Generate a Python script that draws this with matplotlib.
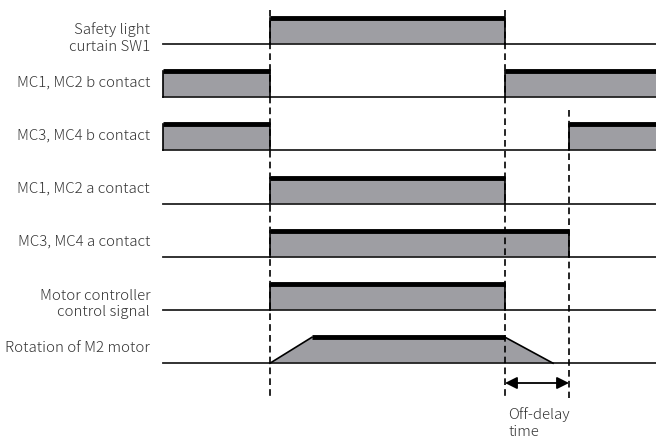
import matplotlib.pyplot as plt
from matplotlib.patches import Polygon

# signal labels (top to bottom)
labels = ['Safety light\ncurtain SW1', 'MC1, MC2 b contact', 'MC3, MC4 b contact',
          'MC1, MC2 a contact', 'MC3, MC4 a contact',
          'Motor controller\ncontrol signal', 'Rotation of M2 motor']

# event times on the time axis
t_start, t_end = 163, 656
t_on, t_off, t_delay = 270, 505, 569
ramp_up, ramp_down = 312, 553

# high intervals of each signal
highs = [
    [(t_on, t_off)],
    [(t_start, t_on), (t_off, t_end)],
    [(t_start, t_on), (t_delay, t_end)],
    [(t_on, t_off)],
    [(t_on, t_delay)],
    [(t_on, t_off)],
]
# motor rotation profile (trapezoid)
motor_t = [t_on, ramp_up, t_off, ramp_down]
motor_v = [0, 1, 1, 0]

plt.rcParams['font.family'] = ['Noto Sans CJK JP', 'DejaVu Sans']

fig = plt.figure(figsize=(6.56, 4.43), dpi=100)
ax = fig.add_axes([0, 0, 1, 1])
ax.set_xlim(0, 656)
ax.set_ylim(443, 0)
ax.axis('off')

base0, pitch, h = 44, 53.2, 26
fill_c = '#9e9ea3'
txt_c = '#333333'
fs = 10.8

for i, lab in enumerate(labels):
    yb = base0 + i * pitch
    ax.plot([t_start, t_end], [yb, yb], color='#222222', lw=1.3, zorder=3)
    ax.text(150, yb - 15 if '\n' not in lab else yb - 6, lab, ha='right', va='center',
            fontsize=fs, fontweight='light', color=txt_c, linespacing=1.2)
    if i < len(highs):
        for a, b in highs[i]:
            ax.fill_between([a, b], yb, yb - h, color=fill_c, lw=0, zorder=2)
            ax.plot([a, b], [yb - h, yb - h], color='black', lw=3.5,
                    solid_capstyle='butt', zorder=4)
            ax.plot([a, a], [yb, yb - h], color='black', lw=1.2, zorder=4)
            if b < t_end:
                ax.plot([b, b], [yb, yb - h], color='black', lw=1.2, zorder=4)
    else:
        pts = [(t, yb - v * h) for t, v in zip(motor_t, motor_v)]
        ax.add_patch(Polygon(pts, closed=True, facecolor=fill_c, edgecolor='none', zorder=2))
        ax.plot([motor_t[0], motor_t[1]], [yb, yb - h], color='black', lw=1.2, zorder=4)
        ax.plot([motor_t[2], motor_t[3]], [yb - h, yb], color='black', lw=1.2, zorder=4)
        ax.plot([motor_t[1], motor_t[2]], [yb - h, yb - h], color='black', lw=3.5,
                solid_capstyle='butt', zorder=4)

# dashed guide lines
for t, y0 in [(t_on, 10), (t_off, 10), (t_delay, 110)]:
    ax.plot([t, t], [y0, 398], color='black', lw=1.2, ls=(0, (4, 2.5)), zorder=5)

# off-delay arrow
ax.annotate('', xy=(t_off, 383), xytext=(t_delay, 383),
            arrowprops=dict(arrowstyle='<|-|>', color='black', lw=1.3,
                            mutation_scale=18, shrinkA=0, shrinkB=0))
ax.text(508, 423, 'Off-delay\ntime', ha='left', va='center', fontsize=fs,
        fontweight='light', color=txt_c, linespacing=1.2)

fig.savefig('out.png', dpi=100)
